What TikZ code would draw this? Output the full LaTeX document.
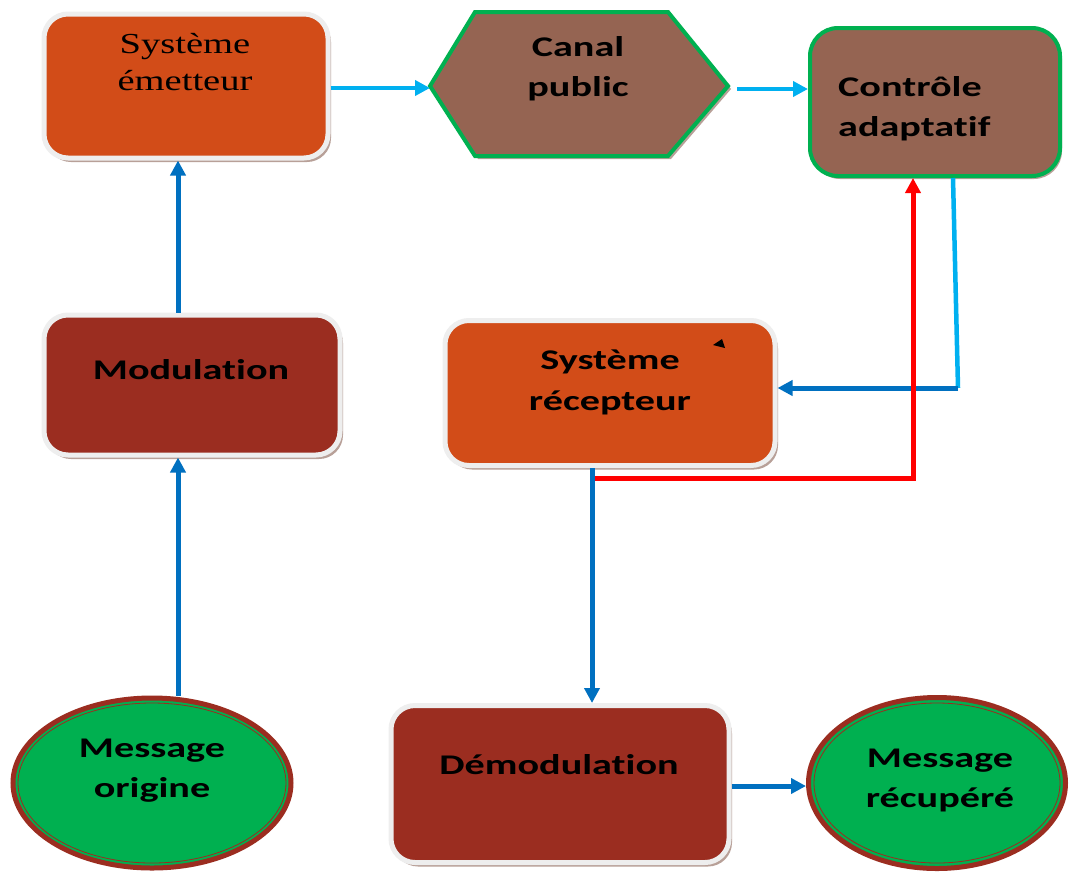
\documentclass[tikz,border=0pt]{standalone}
\usepackage{fontspec}
\usepackage{graphicx}
\setmainfont{Liberation Serif}
\newfontfamily\carlfont[Ligatures={NoCommon}]{Carlito}
\usetikzlibrary{arrows.meta,shadows,shapes.geometric}
\definecolor{orng}{HTML}{D24C18}
\definecolor{dred}{HTML}{9B2D20}
\definecolor{brwn}{HTML}{956452}
\definecolor{grn}{HTML}{00B050}
\definecolor{lblue}{HTML}{00B0F0}
\definecolor{dblue}{HTML}{0070C0}
\definecolor{shd}{HTML}{B8A098}
\definecolor{rimc}{HTML}{EEEEEE}
\newcommand{\hstretch}[1]{\scalebox{1.41}[1]{#1}}
\newcommand{\sstretch}[1]{\scalebox{1.33}[1]{#1}}
\tikzset{
  boxw/.style={rounded corners=24pt, draw=rimc, line width=5pt, inner sep=0pt,
    drop shadow={shadow xshift=3pt, shadow yshift=-4pt, fill=shd, opacity=1}},
  ellw/.style={ellipse, fill=grn, draw=dred, line width=5pt, inner sep=0pt},
  lbl/.style={font=\carlfont\bfseries\fontsize{28.5}{34}\selectfont, inner sep=0pt, anchor=base},
  slbl/.style={font=\fontsize{29}{35}\selectfont, inner sep=0pt, anchor=base},
  tipa/.style={-{Triangle[length=15pt,width=15pt]}},
  larr/.style={draw=lblue, line width=4.5pt, tipa},
  darr/.style={draw=dblue, line width=5pt, tipa},
  rarr/.style={draw=red, line width=5pt, tipa},
  lline/.style={draw=lblue, line width=4.5pt}
}
\begin{document}
\begin{tikzpicture}[x=1pt,y=-1pt]
\useasboundingbox[fill=white] (0,0) rectangle (1070,871);
% boxes
\node[boxw, fill=orng, minimum width=284pt, minimum height=144pt] (emet) at (186,86) {};
\node[boxw, fill=dred, minimum width=296pt, minimum height=140pt] (mod) at (192,385) {};
\node[boxw, fill=orng, minimum width=330pt, minimum height=145pt] (rec) at (610,393) {};
\node[boxw, fill=dred, minimum width=338pt, minimum height=157pt] (dem) at (560,784) {};
\node[rounded corners=28pt, draw=grn, fill=brwn, line width=4pt, inner sep=0pt,
  minimum width=250pt, minimum height=148pt,
  drop shadow={shadow xshift=2pt, shadow yshift=-3pt, fill=shd, opacity=1}] (cont) at (935,102) {};
% hexagon
\fill[shd] (433,89) -- (478,15) -- (671,15) -- (731,89) -- (671,159) -- (478,159) -- cycle;
\draw[draw=grn, fill=brwn, line width=4pt, line join=miter]
  (430,86) -- (475,12) -- (668,12) -- (728,86) -- (668,156) -- (475,156) -- cycle;
\coordinate (canL) at (430,88);
\coordinate (canR) at (737,89);
% ellipses
\node[ellw, minimum width=278pt, minimum height=170pt] (mo) at (152,783) {};
\draw[dred, line width=0.8pt] (mo.center) ellipse [x radius=134, y radius=80];
\node[ellw, minimum width=257pt, minimum height=171pt] (mr) at (937,783) {};
\draw[dred, line width=0.8pt] (mr.center) ellipse [x radius=123, y radius=80];
% texts
\node[slbl] (t1) at (185,53) {\sstretch{Système}};
\node[slbl] (t2) at (185,90) {\sstretch{émetteur}};
\node[lbl] (t3) at (578,56) {\hstretch{Canal}};
\node[lbl] (t4) at (578,96) {\hstretch{public}};
\node[lbl, anchor=base west] (t5) at (838,96) {\hstretch{Contrôle}};
\node[lbl, anchor=base west] (t6) at (838,136) {\hstretch{adaptatif}};
\node[lbl] (t7) at (191,379) {\hstretch{Modulation}};
\node[lbl] (t8) at (610,369) {\hstretch{Système}};
\node[lbl] (t9) at (610,410) {\hstretch{récepteur}};
\node[lbl] (t10) at (152,757) {\hstretch{Message}};
\node[lbl] (t11) at (152,797) {\hstretch{origine}};
\node[lbl] (t12) at (559,774) {\hstretch{Démodulation}};
\node[lbl] (t13) at (940,767) {\hstretch{Message}};
\node[lbl] (t14) at (940,807) {\hstretch{récupéré}};
% small mark
\fill[black] (713,345) -- (722,339) -- (725,348) -- cycle;
% connectors
\coordinate (xm) at (178,0);
\coordinate (xd) at (592,0);
\coordinate (xc) at (953,0);
\coordinate (turn) at (958,388);
\coordinate (rbeg) at (595,478);
\coordinate (rturn) at (913,478);
\coordinate (ym) at (0,786);
\draw[larr] (emet.east |- canL) -- (canL);
\draw[larr] (canR) -- (cont.west |- canR);
\draw[darr] (mod.north -| xm) -- (emet.south -| xm);
\draw[darr] (mo.north -| xm) -- (mod.south -| xm);
\draw[lline] (cont.south -| xc) -- (turn);
\draw[darr] (turn) -- (rec.east |- turn);
\draw[darr] (rec.south -| xd) -- (dem.north -| xd);
\draw[rarr] (rbeg) -- (rturn) -- (rturn |- cont.south);
\draw[darr] (dem.east |- ym) -- (mr.west |- ym);
\end{tikzpicture}
\end{document}
